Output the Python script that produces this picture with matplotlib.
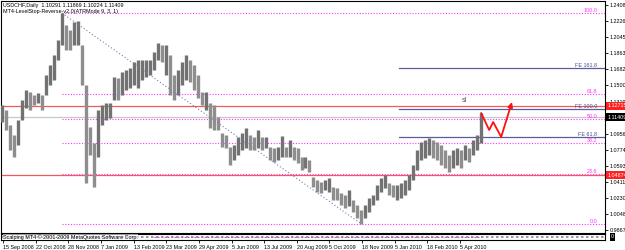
import matplotlib
matplotlib.use("Agg")
import matplotlib.pyplot as plt
import matplotlib.transforms as mtransforms
import numpy as np

plt.rcParams["font.family"] = ["Liberation Sans", "DejaVu Sans"]

title_text = "USDCHF,Daily  1.10291 1.11869 1.10224 1.11409"
indicator_text = "MT4-LevelStop-Reverse-v2.0(ATRMode 9, 3, 1)"
sub_text = "Scalping MT4 © 2001-2009 MetaQuotes Software Corp."

# bars, one every ~3-4 trading days
bar_high = [1.1280, 1.1223, 1.1054, 1.0941, 1.1110, 1.1336, 1.1449, 1.1426, 1.1393, 1.1415,
            1.1393, 1.1619, 1.1732, 1.1845, 1.2014, 1.2319, 1.2184, 1.2127, 1.2217, 1.2229,
            1.1958, 1.1506, 1.1031, 1.0850, 1.1223, 1.1280, 1.1302, 1.1302, 1.1596, 1.1585,
            1.1652, 1.1675, 1.1698, 1.1765, 1.1788, 1.1788, 1.1788, 1.1788, 1.1878, 1.1980,
            1.1958, 1.1958, 1.1845, 1.1619, 1.1675, 1.1765, 1.1845, 1.1788, 1.1732, 1.1619,
            1.1426, 1.1426, 1.1302, 1.1280, 1.1144, 1.0963, 1.0941, 1.0805, 1.0828, 1.0918,
            1.0963, 1.1020, 1.0941, 1.0918, 1.0997, 1.0918, 1.0918, 1.0805, 1.0794, 1.0805,
            1.0929, 1.0805, 1.0884, 1.0805, 1.0794, 1.0692, 1.0692, 1.0658, 1.0466, 1.0432,
            1.0409, 1.0432, 1.0455, 1.0353, 1.0342, 1.0285, 1.0263, 1.0319, 1.0206, 1.0150,
            1.0093, 1.0150, 1.0229, 1.0263, 1.0376, 1.0455, 1.0489, 1.0398, 1.0376, 1.0376,
            1.0398, 1.0432, 1.0489, 1.0602, 1.0771, 1.0861, 1.0884, 1.0907, 1.0884, 1.0861,
            1.0828, 1.0771, 1.0715, 1.0771, 1.0794, 1.0771, 1.0828, 1.0794, 1.0884, 1.0941,
            1.1187]
bar_low = [1.1087, 1.0997, 1.0771, 1.0692, 1.0828, 1.1110, 1.1246, 1.1223, 1.1280, 1.1302,
           1.1223, 1.1393, 1.1506, 1.1562, 1.1788, 1.1958, 1.1901, 1.1901, 1.1958, 1.1958,
           1.1506, 1.0398, 1.0715, 1.0353, 1.0692, 1.1054, 1.1110, 1.1133, 1.1336, 1.1336,
           1.1393, 1.1449, 1.1472, 1.1506, 1.1472, 1.1562, 1.1596, 1.1619, 1.1675, 1.1788,
           1.1765, 1.1619, 1.1393, 1.1336, 1.1393, 1.1506, 1.1562, 1.1539, 1.1449, 1.1359,
           1.1280, 1.1223, 1.1020, 1.0997, 1.0997, 1.0805, 1.0794, 1.0602, 1.0658, 1.0715,
           1.0771, 1.0794, 1.0771, 1.0771, 1.0794, 1.0771, 1.0794, 1.0658, 1.0635, 1.0658,
           1.0692, 1.0692, 1.0692, 1.0658, 1.0624, 1.0545, 1.0568, 1.0522, 1.0353, 1.0296,
           1.0285, 1.0319, 1.0296, 1.0206, 1.0206, 1.0150, 1.0116, 1.0138, 1.0070, 1.0003,
           0.9935, 1.0003, 1.0070, 1.0150, 1.0206, 1.0296, 1.0342, 1.0263, 1.0240, 1.0206,
           1.0229, 1.0263, 1.0319, 1.0432, 1.0545, 1.0658, 1.0681, 1.0715, 1.0681, 1.0658,
           1.0602, 1.0568, 1.0522, 1.0568, 1.0602, 1.0568, 1.0658, 1.0635, 1.0715, 1.0771,
           1.0850]
last_price = 1.11409

# right price scale
price_ticks = [0.98670, 1.00485, 1.02300, 1.04115, 1.05930, 1.07745, 1.09560, 1.11375,
               1.13190, 1.15005, 1.16820, 1.18635, 1.20450, 1.22265, 1.24080]
date_labels = ["15 Sep 2008", "22 Oct 2008", "28 Nov 2008", "7 Jan 2009", "13 Feb 2009",
               "23 Mar 2009", "29 Apr 2009", "5 Jun 2009", "13 Jul 2009", "20 Aug 2009",
               "5 Oct 2009", "18 Nov 2009", "5 Jan 2010", "18 Feb 2010", "5 Apr 2010"]

fib_levels = [0.0, 23.6, 38.2, 50.0, 61.8, 100.0]
fe_levels = [61.8, 100.0, 161.8]
fe_prices = [1.0917, 1.1234, 1.1697]
red_levels = [1.12715, 1.04874]

# projected zig-zag after the last bar (bars ahead, price)
proj_ahead = [0, 2, 3, 5, 7.7]
proj_price = [1.1187, 1.0997, 1.1087, 1.0918, 1.1313]

FS = 3.9
n = len(bar_high)
x = np.arange(n)
hi = np.array(bar_high)
lo = np.array(bar_low)

fig = plt.figure(figsize=(6.25, 2.5), dpi=100)
fig.patch.set_facecolor("white")
W, H = 625.0, 250.0
left, right_px = 1 / W, 605 / W
ax = fig.add_axes([left, 1 - 233 / H, right_px - left, 232 / H])
sub = fig.add_axes([left, 1 - 240 / H, right_px - left, 6 / H], sharex=ax)

ax.set_xlim(-0.25, 151.0)
ax.set_ylim(0.9833, 1.2455)

# bars: lighter when the high is below the previous one
up = np.r_[True, hi[1:] >= hi[:-1]]
ax.vlines(x[up], lo[up], hi[up], color="#727272", linewidth=2.4, zorder=3)
ax.vlines(x[~up], lo[~up], hi[~up], color="#8e8e8e", linewidth=2.4, zorder=3)

# fibo retracement from the top to the bottom
i_top, i_bot = int(np.argmax(hi)), int(np.argmin(lo))
p_top, p_bot = hi[i_top], lo[i_bot]
lab_tr = mtransforms.blended_transform_factory(ax.transAxes, ax.transData)
for lv in fib_levels:
    p = p_bot + (p_top - p_bot) * lv / 100
    ax.plot([i_top, 151], [p, p], color="#ff33ff", linestyle=(0, (1, 1.5)), linewidth=0.8, zorder=2)
    ax.text(0.987, p, f"{lv:.1f}", transform=lab_tr, ha="right", va="bottom",
            fontsize=FS, color="#ff33ff")

# trend line top -> bottom
ax.plot([i_top, i_bot], [p_top, p_bot], color="#7a7ab8", linestyle=(0, (1, 2)), linewidth=0.8, zorder=4)

# fibo expansion
for lv, p in zip(fe_levels, fe_prices):
    ax.plot([99.5, 151], [p, p], color="#5c5c9c", linewidth=0.9, zorder=2)
    ax.text(0.987, p, f"FE {lv:.1f}", transform=lab_tr, ha="right", va="bottom",
            fontsize=FS, color="#4a4a8a")

for p in red_levels:
    ax.axhline(p, color="#f05a5a", linewidth=0.9, zorder=2)
ax.axhline(last_price, color="#c8c8c8", linewidth=0.9, zorder=1)

ax.text(115.2, red_levels[0] + 0.0015, "sl", fontsize=5, color="#555555", ha="left", va="bottom")

# projection arrow
px = n - 1 + np.array(proj_ahead)
ax.plot(px[:-1], proj_price[:-1], color="#ff1010", linewidth=1.3, zorder=5)
ax.annotate("", xy=(px[-1], proj_price[-1]), xytext=(px[-2], proj_price[-2]),
            arrowprops=dict(arrowstyle="-|>", color="#ff1010", lw=1.3,
                            mutation_scale=7, shrinkA=0, shrinkB=0), zorder=5)

# price axis
ax.yaxis.tick_right()
ax.set_yticks(price_ticks)
ax.set_yticklabels([f"{t:.5f}" for t in price_ticks])
ax.tick_params(axis="y", labelsize=FS, length=2, width=0.6, pad=1.5, colors="black")
ax.tick_params(axis="x", bottom=False, labelbottom=False)
for s in ax.spines.values():
    s.set_linewidth(0.8)
    s.set_color("black")

for p, fc in [(red_levels[0], "#ff2020"), (red_levels[1], "#ff2020"), (last_price, "black")]:
    ax.text(1.004, p, f"{p:.5f}", transform=lab_tr, ha="left", va="center", fontsize=FS,
            color="white", zorder=10, clip_on=False,
            bbox=dict(boxstyle="square,pad=0.25", fc=fc, ec="none"))

fig.text(3 / W, 1 - 2.5 / H, title_text, fontsize=FS, va="top", ha="left")
fig.text(3 / W, 1 - 8.5 / H, indicator_text, fontsize=FS, va="top", ha="left")

# lower indicator strip
sub.set_ylim(0, 1)
sub.plot([-0.25, 151], [0.5, 0.5], color="#888888", linestyle=(0, (1.5, 1.5)), linewidth=1.2)
sub.plot([38, n - 1], [0.55, 0.55], color="#cc55cc", linestyle=(0, (1.5, 1.5)), linewidth=0.8)
sub.text(0.003, 0.5, sub_text, transform=sub.transAxes, fontsize=FS, va="center", ha="left",
         bbox=dict(boxstyle="square,pad=0.05", fc="white", ec="none", alpha=0.6))
sub.set_yticks([])
date_first, date_step = 0.25, 8.175
date_pos = date_first + np.arange(len(date_labels)) * date_step
sub.set_xticks(date_pos)
sub.set_xticklabels(date_labels, ha="left")
sub.tick_params(axis="x", labelsize=FS, length=2, width=0.6, pad=1.5)
for s in sub.spines.values():
    s.set_linewidth(0.8)
sub.text(1.01, 0.5, "0", transform=sub.transAxes, fontsize=FS, va="center", ha="left",
         color="white", bbox=dict(boxstyle="square,pad=0.2", fc="black", ec="none"))

fig.savefig("out.png", dpi=100)
